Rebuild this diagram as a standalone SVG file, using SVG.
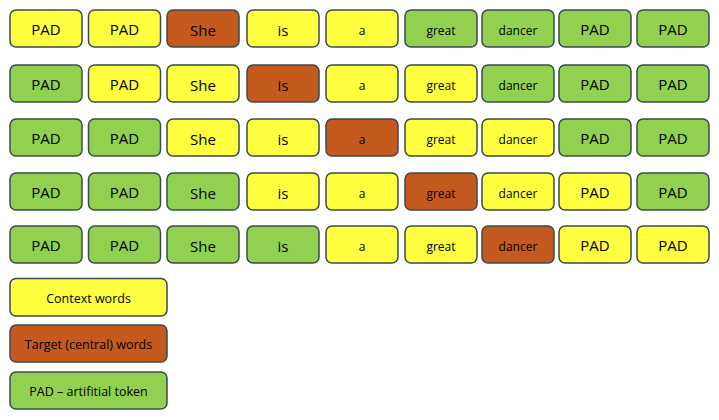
<svg xmlns="http://www.w3.org/2000/svg" width="719" height="420" viewBox="0 0 719 420">
<style>
rect{stroke:#3b4a4c;stroke-width:1.5}
.y{fill:#ffff3f}.o{fill:#c55a1e}.g{fill:#92d050}
text{font-family:"Open Sans","Liberation Sans",sans-serif;fill:#000;text-anchor:middle;dominant-baseline:central}
.l{font-size:15px}.s{font-size:12px}.t{font-size:12.5px}
</style>
<rect width="719" height="420" fill="#fff" style="stroke:none"/>
<g id="row1">
<g id="r1c1"><rect class="y" x="10" y="10" width="72" height="37" rx="6"/><text class="l" x="46" y="29">PAD</text></g>
<g id="r1c2"><rect class="y" x="88.5" y="10" width="72" height="37" rx="6"/><text class="l" x="124.5" y="29">PAD</text></g>
<g id="r1c3"><rect class="o" x="167" y="10" width="72" height="37" rx="6"/><text class="l" x="203" y="30">She</text></g>
<g id="r1c4"><rect class="y" x="247" y="10" width="72" height="37" rx="6"/><text class="l" x="283" y="30">is</text></g>
<g id="r1c5"><rect class="y" x="326" y="10" width="72" height="37" rx="6"/><text class="s" x="362" y="30">a</text></g>
<g id="r1c6"><rect class="g" x="405" y="10" width="72" height="37" rx="6"/><text class="s" x="441" y="30">great</text></g>
<g id="r1c7"><rect class="g" x="482" y="10" width="72" height="37" rx="6"/><text class="s" x="518" y="30">dancer</text></g>
<g id="r1c8"><rect class="g" x="559" y="10" width="72" height="37" rx="6"/><text class="l" x="595" y="29">PAD</text></g>
<g id="r1c9"><rect class="g" x="637" y="10" width="72" height="37" rx="6"/><text class="l" x="673" y="29">PAD</text></g>
</g>
<g id="row2">
<g id="r2c1"><rect class="g" x="10" y="65" width="72" height="37" rx="6"/><text class="l" x="46" y="84">PAD</text></g>
<g id="r2c2"><rect class="y" x="88.5" y="65" width="72" height="37" rx="6"/><text class="l" x="124.5" y="84">PAD</text></g>
<g id="r2c3"><rect class="y" x="167" y="65" width="72" height="37" rx="6"/><text class="l" x="203" y="85">She</text></g>
<g id="r2c4"><rect class="o" x="247" y="65" width="72" height="37" rx="6"/><text class="l" x="283" y="85">is</text></g>
<g id="r2c5"><rect class="y" x="326" y="65" width="72" height="37" rx="6"/><text class="s" x="362" y="85">a</text></g>
<g id="r2c6"><rect class="y" x="405" y="65" width="72" height="37" rx="6"/><text class="s" x="441" y="85">great</text></g>
<g id="r2c7"><rect class="g" x="482" y="65" width="72" height="37" rx="6"/><text class="s" x="518" y="85">dancer</text></g>
<g id="r2c8"><rect class="g" x="559" y="65" width="72" height="37" rx="6"/><text class="l" x="595" y="84">PAD</text></g>
<g id="r2c9"><rect class="g" x="637" y="65" width="72" height="37" rx="6"/><text class="l" x="673" y="84">PAD</text></g>
</g>
<g id="row3">
<g id="r3c1"><rect class="g" x="10" y="119" width="72" height="37" rx="6"/><text class="l" x="46" y="138">PAD</text></g>
<g id="r3c2"><rect class="g" x="88.5" y="119" width="72" height="37" rx="6"/><text class="l" x="124.5" y="138">PAD</text></g>
<g id="r3c3"><rect class="y" x="167" y="119" width="72" height="37" rx="6"/><text class="l" x="203" y="139">She</text></g>
<g id="r3c4"><rect class="y" x="247" y="119" width="72" height="37" rx="6"/><text class="l" x="283" y="139">is</text></g>
<g id="r3c5"><rect class="o" x="326" y="119" width="72" height="37" rx="6"/><text class="s" x="362" y="139">a</text></g>
<g id="r3c6"><rect class="y" x="405" y="119" width="72" height="37" rx="6"/><text class="s" x="441" y="139">great</text></g>
<g id="r3c7"><rect class="y" x="482" y="119" width="72" height="37" rx="6"/><text class="s" x="518" y="139">dancer</text></g>
<g id="r3c8"><rect class="g" x="559" y="119" width="72" height="37" rx="6"/><text class="l" x="595" y="138">PAD</text></g>
<g id="r3c9"><rect class="g" x="637" y="119" width="72" height="37" rx="6"/><text class="l" x="673" y="138">PAD</text></g>
</g>
<g id="row4">
<g id="r4c1"><rect class="g" x="10" y="173" width="72" height="37" rx="6"/><text class="l" x="46" y="192">PAD</text></g>
<g id="r4c2"><rect class="g" x="88.5" y="173" width="72" height="37" rx="6"/><text class="l" x="124.5" y="192">PAD</text></g>
<g id="r4c3"><rect class="g" x="167" y="173" width="72" height="37" rx="6"/><text class="l" x="203" y="193">She</text></g>
<g id="r4c4"><rect class="y" x="247" y="173" width="72" height="37" rx="6"/><text class="l" x="283" y="193">is</text></g>
<g id="r4c5"><rect class="y" x="326" y="173" width="72" height="37" rx="6"/><text class="s" x="362" y="193">a</text></g>
<g id="r4c6"><rect class="o" x="405" y="173" width="72" height="37" rx="6"/><text class="s" x="441" y="193">great</text></g>
<g id="r4c7"><rect class="y" x="482" y="173" width="72" height="37" rx="6"/><text class="s" x="518" y="193">dancer</text></g>
<g id="r4c8"><rect class="y" x="559" y="173" width="72" height="37" rx="6"/><text class="l" x="595" y="192">PAD</text></g>
<g id="r4c9"><rect class="g" x="637" y="173" width="72" height="37" rx="6"/><text class="l" x="673" y="192">PAD</text></g>
</g>
<g id="row5">
<g id="r5c1"><rect class="g" x="10" y="226" width="72" height="37" rx="6"/><text class="l" x="46" y="245">PAD</text></g>
<g id="r5c2"><rect class="g" x="88.5" y="226" width="72" height="37" rx="6"/><text class="l" x="124.5" y="245">PAD</text></g>
<g id="r5c3"><rect class="g" x="167" y="226" width="72" height="37" rx="6"/><text class="l" x="203" y="246">She</text></g>
<g id="r5c4"><rect class="g" x="247" y="226" width="72" height="37" rx="6"/><text class="l" x="283" y="246">is</text></g>
<g id="r5c5"><rect class="y" x="326" y="226" width="72" height="37" rx="6"/><text class="s" x="362" y="246">a</text></g>
<g id="r5c6"><rect class="y" x="405" y="226" width="72" height="37" rx="6"/><text class="s" x="441" y="246">great</text></g>
<g id="r5c7"><rect class="o" x="482" y="226" width="72" height="37" rx="6"/><text class="s" x="518" y="246">dancer</text></g>
<g id="r5c8"><rect class="y" x="559" y="226" width="72" height="37" rx="6"/><text class="l" x="595" y="245">PAD</text></g>
<g id="r5c9"><rect class="y" x="637" y="226" width="72" height="37" rx="6"/><text class="l" x="673" y="245">PAD</text></g>
</g>
<g id="legend">
<g id="leg-context"><rect class="y" x="10" y="278.5" width="157" height="37.5" rx="6"/><text class="t" x="88.5" y="298">Context words</text></g>
<g id="leg-target"><rect class="o" x="10" y="325" width="157" height="37" rx="6"/><text class="t" x="88.5" y="344">Target (central) words</text></g>
<g id="leg-pad"><rect class="g" x="10" y="372" width="157" height="37" rx="6"/><text class="t" x="88.5" y="391">PAD – artifitial token</text></g>
</g>
<g id="connectors"/>
</svg>
